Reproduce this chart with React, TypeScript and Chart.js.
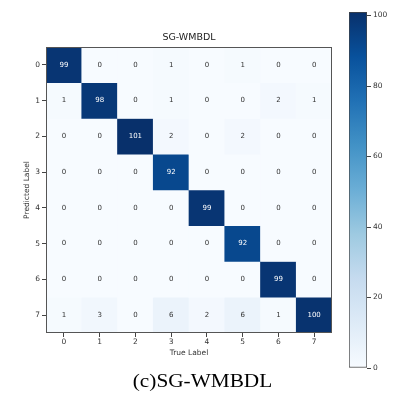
import React, { useEffect, useRef } from "react";
import { Chart, registerables } from "chart.js";

Chart.register(...registerables);

const trueLabels = ["0", "1", "2", "3", "4", "5", "6", "7"];
const predictedLabels = ["0", "1", "2", "3", "4", "5", "6", "7"];

const row0 = [99, 0, 0, 1, 0, 1, 0, 0];
const row1 = [1, 98, 0, 1, 0, 0, 2, 1];
const row2 = [0, 0, 101, 2, 0, 2, 0, 0];
const row3 = [0, 0, 0, 92, 0, 0, 0, 0];
const row4 = [0, 0, 0, 0, 99, 0, 0, 0];
const row5 = [0, 0, 0, 0, 0, 92, 0, 0];
const row6 = [0, 0, 0, 0, 0, 0, 99, 0];
const row7 = [1, 3, 0, 6, 2, 6, 1, 100];
const matrix = [row0, row1, row2, row3, row4, row5, row6, row7];

const colorbarTicks = [0, 20, 40, 60, 80, 100];
const vmin = 0;
const vmax = 101;

const chartTitle = "SG-WMBDL";
const xTitle = "True Label";
const yTitle = "Predicted Label";
const caption = "(c)SG-WMBDL";

const BLUES = ["#f7fbff", "#deebf7", "#c6dbef", "#9ecae1", "#6baed6", "#4292c6", "#2171b5", "#08519c", "#08306b"];

function hexToRgb(h: string) {
  return [parseInt(h.slice(1, 3), 16), parseInt(h.slice(3, 5), 16), parseInt(h.slice(5, 7), 16)];
}

function blues(t: number) {
  const tt = Math.max(0, Math.min(1, t));
  const pos = tt * (BLUES.length - 1);
  const i = Math.min(BLUES.length - 2, Math.floor(pos));
  const f = pos - i;
  const a = hexToRgb(BLUES[i]);
  const b = hexToRgb(BLUES[i + 1]);
  const c = a.map((v, k) => Math.round(v + (b[k] - v) * f));
  return `rgb(${c[0]},${c[1]},${c[2]})`;
}

const FONT = "'DejaVu Sans', sans-serif";

export default function App() {
  const mainRef = useRef<HTMLCanvasElement>(null);
  const cbRef = useRef<HTMLCanvasElement>(null);

  useEffect(() => {
    const threshold = (vmax + vmin) / 2;

    const annotate = {
      id: "annotate",
      afterDatasetsDraw(chart: any) {
        const { ctx, scales, chartArea } = chart;
        const x = scales.x;
        const y = scales.y;
        ctx.save();
        ctx.font = `7px ${FONT}`;
        ctx.textAlign = "center";
        ctx.textBaseline = "middle";
        matrix.forEach((row, r) => {
          row.forEach((v, c) => {
            ctx.fillStyle = v > threshold ? "#ffffff" : "#333333";
            ctx.fillText(String(v), x.getPixelForValue(c), y.getPixelForValue(r + 0.5));
          });
        });
        ctx.strokeStyle = "#555555";
        ctx.lineWidth = 1;
        ctx.strokeRect(
          Math.round(chartArea.left) + 0.5,
          Math.round(chartArea.top) + 0.5,
          Math.round(chartArea.right - chartArea.left) - 1,
          Math.round(chartArea.bottom - chartArea.top) - 1
        );
        ctx.restore();
      },
    };

    const datasets = matrix.map((row, r) => ({
      label: predictedLabels[r],
      data: row.map(() => [r, r + 1]),
      backgroundColor: row.map((v) => blues((v - vmin) / (vmax - vmin))),
      borderWidth: 0,
      barPercentage: 1,
      categoryPercentage: 1,
    }));

    const main = new Chart(mainRef.current!, {
      type: "bar",
      data: { labels: trueLabels, datasets: datasets as any },
      options: {
        animation: false,
        responsive: false,
        layout: { padding: { left: 0, right: 8, top: 0, bottom: 0 } },
        plugins: {
          legend: { display: false },
          tooltip: { enabled: false },
          title: {
            display: true,
            fullSize: false,
            text: chartTitle,
            color: "#222222",
            font: { family: FONT, size: 9.5, weight: "normal" },
            padding: { top: 32, bottom: 3.6 },
          },
        },
        scales: {
          x: {
            type: "category",
            stacked: true,
            offset: true,
            grid: { display: true, offset: false, drawOnChartArea: false, drawTicks: true, tickLength: 4, color: "#444444" },
            border: { display: false },
            ticks: { color: "#333333", font: { family: FONT, size: 7.5 }, padding: 1, maxRotation: 0 },
            title: { display: true, text: xTitle, color: "#333333", font: { family: FONT, size: 7.5 }, padding: { top: 0, bottom: 7 } },
            afterFit: (s: any) => {
              s.height = 32;
            },
          },
          y: {
            type: "linear",
            stacked: false,
            min: 0,
            max: predictedLabels.length,
            reverse: true,
            grid: { display: true, drawOnChartArea: false, drawTicks: true, tickLength: 4, color: "#444444" },
            border: { display: false },
            afterBuildTicks: (s: any) => {
              s.ticks = predictedLabels.map((_, i) => ({ value: i + 0.5 }));
            },
            ticks: {
              color: "#333333",
              font: { family: FONT, size: 7.5 },
              padding: 2,
              callback: (v: any) => predictedLabels[Math.round(Number(v) - 0.5)],
            },
            title: { display: true, text: yTitle, color: "#333333", font: { family: FONT, size: 7.5 }, padding: { top: 23, bottom: 0 } },
            afterFit: (s: any) => {
              s.width = 46;
            },
          },
        },
      },
      plugins: [annotate],
    });

    const cb = new Chart(cbRef.current!, {
      type: "bar",
      data: {
        labels: ["cb"],
        datasets: [
          {
            data: [[vmin, vmax]] as any,
            backgroundColor: (ctx: any) => {
              const { chart } = ctx;
              const area = chart.chartArea;
              if (!area) return BLUES[4];
              const g = chart.ctx.createLinearGradient(0, area.bottom, 0, area.top);
              BLUES.forEach((c, i) => g.addColorStop(i / (BLUES.length - 1), c));
              return g;
            },
            borderColor: "#444444",
            borderWidth: 1,
            borderSkipped: false,
            barPercentage: 1,
            categoryPercentage: 1,
          },
        ],
      },
      options: {
        animation: false,
        responsive: false,
        layout: { padding: { left: 9, right: 0, top: 12, bottom: 12 } },
        plugins: { legend: { display: false }, tooltip: { enabled: false }, title: { display: false } },
        scales: {
          x: { display: false },
          y: {
            position: "right",
            min: vmin,
            max: vmax,
            grid: { display: true, drawOnChartArea: false, drawTicks: true, tickLength: 4, color: "#444444" },
            border: { display: false },
            afterBuildTicks: (s: any) => {
              s.ticks = colorbarTicks.map((v) => ({ value: v }));
            },
            ticks: { color: "#333333", font: { family: FONT, size: 7.5 }, padding: 2 },
            afterFit: (s: any) => {
              s.width = 34;
            },
          },
        },
      },
    });

    return () => {
      main.destroy();
      cb.destroy();
    };
  }, []);

  return (
    <div style={{ position: "absolute", left: 0, top: 0, width: 401, height: 401, background: "#ffffff", overflow: "hidden" }}>
      <canvas ref={mainRef} width={340} height={365} style={{ position: "absolute", left: 0, top: 0 }} />
      <canvas ref={cbRef} width={61} height={380} style={{ position: "absolute", left: 340, top: 0 }} />
      <div
        style={{
          position: "absolute",
          left: 2,
          top: 369,
          width: 401,
          textAlign: "center",
          fontFamily: "'Liberation Serif', 'Times New Roman', serif",
          fontSize: 19,
          lineHeight: "24px",
          color: "#000000",
          transform: "scaleX(1.12)",
        }}
      >
        {caption}
      </div>
    </div>
  );
}
